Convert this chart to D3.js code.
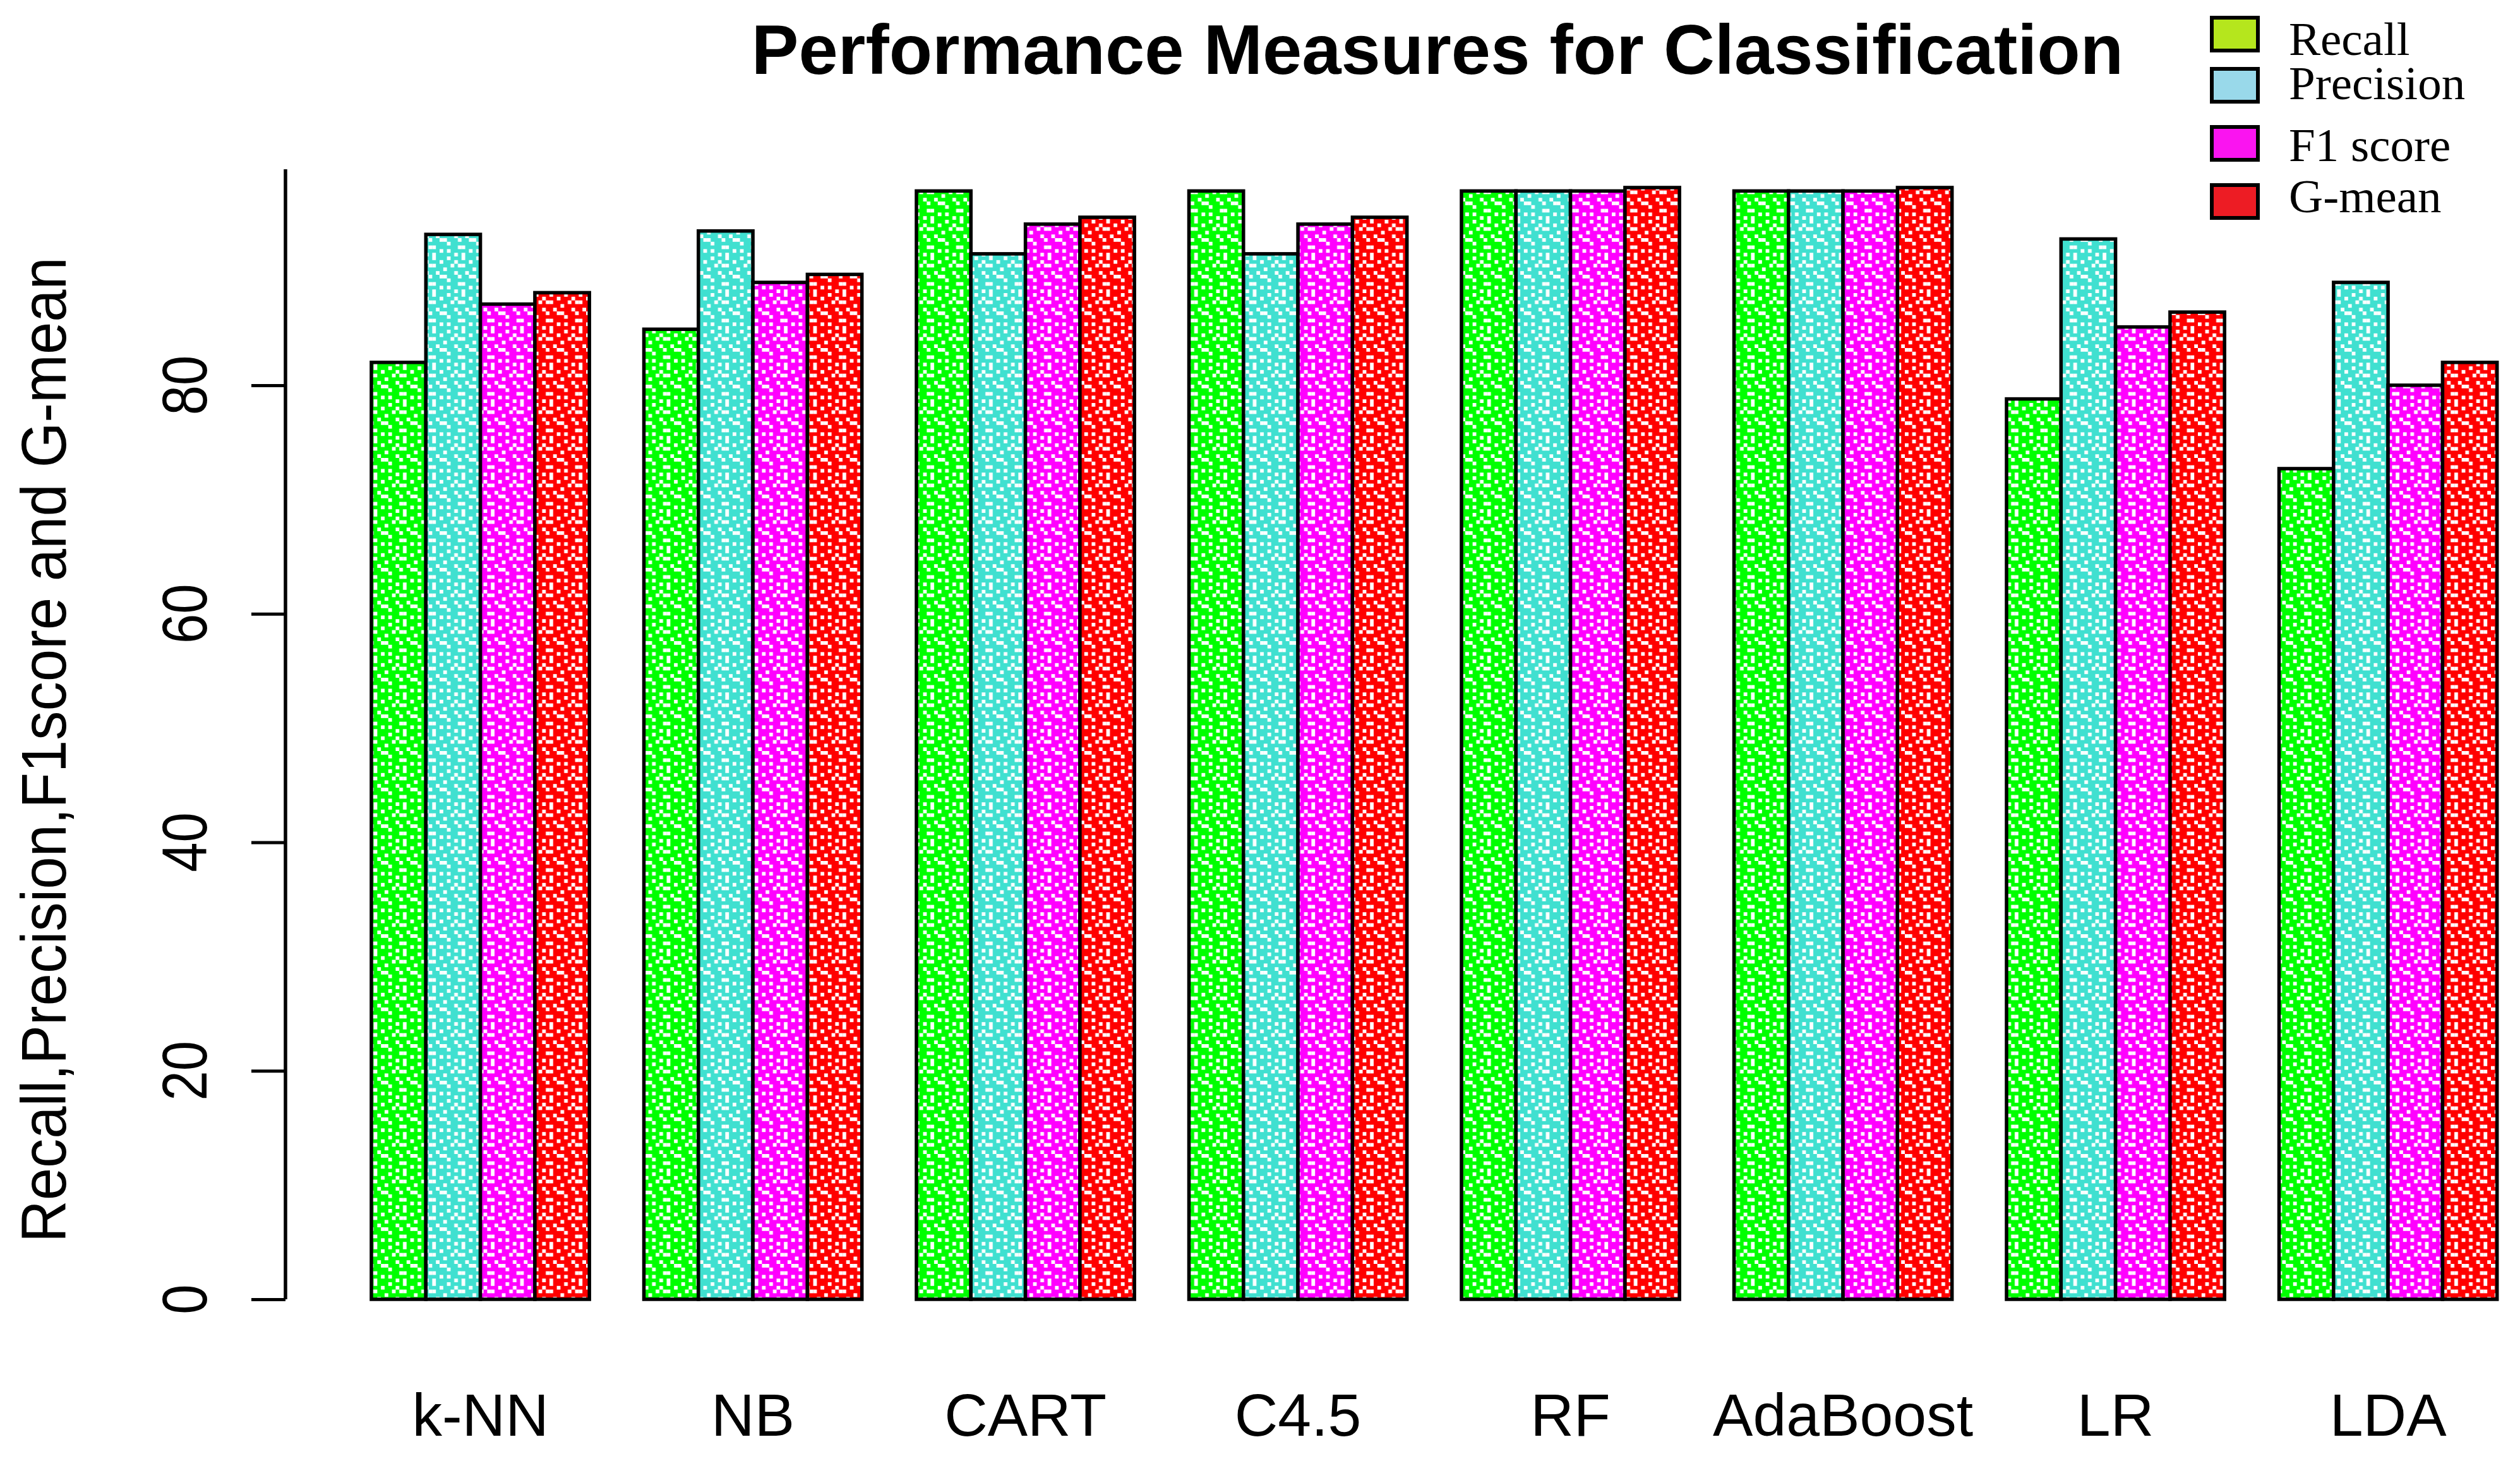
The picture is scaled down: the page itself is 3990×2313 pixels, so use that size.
<!DOCTYPE html>
<html>
<head>
<meta charset="utf-8">
<script src="https://cdn.jsdelivr.net/npm/d3@7"></script>
<style>
  html, body { margin: 0; padding: 0; background: #fff; }
  svg { display: block; }
</style>
</head>
<body>
<script>
// ---------------- DATA ----------------
const categories = ["k-NN", "NB", "CART", "C4.5", "RF", "AdaBoost", "LR", "LDA"];
const seriesNames = ["Recall", "Precision", "F1 score", "G-mean"];
const recall    = [82.0, 84.9, 97.0, 97.0, 97.0, 97.0, 78.8, 72.7];
const precision = [93.2, 93.5, 91.5, 91.5, 97.0, 97.0, 92.8, 89.0];
const f1score   = [87.1, 89.0, 94.1, 94.1, 97.0, 97.0, 85.1, 80.0];
const gmean     = [88.1, 89.7, 94.7, 94.7, 97.3, 97.3, 86.4, 82.0];
const yTicks = [0, 20, 40, 60, 80];
const titleText = "Performance Measures for Classification";
const yLabelText = "Recall,Precision,F1score and G-mean";

// ---------------- STYLE / LAYOUT ----------------
const W = 3990, H = 2313;
const barColors = ["#00FF00", "#40E0D0", "#FF00FF", "#FF0000"];
const legendColors = ["#B5E61D", "#99D9EA", "#FA14F0", "#ED1C24"];
const legendBoxTop = [25, 106, 198, 290];
const legendBaseline = [87, 157, 255, 336];

const seriesValues = [recall, precision, f1score, gmean];
const nS = seriesNames.length;

const svg = d3.select("body").append("svg")
  .attr("width", W).attr("height", H)
  .attr("xmlns", "http://www.w3.org/2000/svg");
svg.append("rect").attr("width", W).attr("height", H).attr("fill", "#fff");

// texture patterns (white speckle dither)
const cell = 5.8;
const bitmap = [
  "..#...#.",
  "#...#...",
  "...#.##.",
  ".#......",
  "....#..#",
  "##...#..",
  "..#.....",
  ".....##.",
  "#.#.....",
  "....#.#."
];
const defs = svg.append("defs");
barColors.forEach((c, i) => {
  const p = defs.append("pattern")
    .attr("id", "pat" + i)
    .attr("patternUnits", "userSpaceOnUse")
    .attr("width", 8 * cell).attr("height", bitmap.length * cell);
  p.append("rect").attr("width", 8 * cell).attr("height", bitmap.length * cell).attr("fill", c);
  bitmap.forEach((row, r) => {
    for (let k = 0; k < row.length; k++) {
      if (row[k] === "#") {
        p.append("rect").attr("x", k * cell).attr("y", r * cell)
          .attr("width", cell).attr("height", cell).attr("fill", "#fff");
      }
    }
  });
});

// scales (R barplot user units: bar width 1, group gap 1)
const x = d3.scaleLinear().domain([0, 40]).range([501.7, 501.7 + 40 * 86.3]);
const y = d3.scaleLinear().domain([0, 98.9]).range([2057, 268]);
const unit = x(1) - x(0);

// bars
const barData = [];
categories.forEach((cat, g) => {
  seriesValues.forEach((vals, s) => {
    barData.push({ g, s, v: vals[g] });
  });
});
svg.append("g").selectAll("rect").data(barData).join("rect")
  .attr("x", d => x(1 + (nS + 1) * d.g + d.s))
  .attr("y", d => y(d.v))
  .attr("width", unit)
  .attr("height", d => y(0) - y(d.v))
  .attr("fill", d => "url(#pat" + d.s + ")")
  .attr("stroke", "#000")
  .attr("stroke-width", 5.5);

// y axis
const axisX = 452;
const yAxis = d3.axisLeft(y).tickValues(yTicks).tickSize(54).tickFormat("");
const ag = svg.append("g").attr("transform", `translate(${axisX},0)`).call(yAxis);
ag.select(".domain").attr("stroke", "#000").attr("stroke-width", 5.5)
  .attr("d", `M0,${y(98.9)}V${y(0)}`);
ag.selectAll(".tick line").attr("stroke", "#000").attr("stroke-width", 5);

// y tick labels (rotated)
svg.append("g").selectAll("text").data(yTicks).join("text")
  .attr("transform", d => `translate(327,${y(d)}) rotate(-90) scale(0.85,1)`)
  .attr("text-anchor", "middle")
  .attr("font-family", "'Liberation Sans', Arial, sans-serif")
  .attr("font-size", 100)
  .attr("fill", "#000")
  .text(d => d);

// y axis label
const yl = svg.append("text")
  .attr("text-anchor", "middle")
  .attr("font-family", "'Liberation Sans', Arial, sans-serif")
  .attr("font-size", 100)
  .attr("fill", "#000")
  .text(yLabelText);
const ylLen = yl.node().getComputedTextLength();
const ylScale = 1560 / ylLen;
yl.attr("transform", `translate(104,1187) rotate(-90) scale(${ylScale},1)`);

// x category labels
svg.append("g").selectAll("text").data(categories).join("text")
  .attr("x", (d, g) => x(1 + (nS + 1) * g + nS / 2))
  .attr("y", 2273)
  .attr("text-anchor", "middle")
  .attr("font-family", "'Liberation Sans', Arial, sans-serif")
  .attr("font-size", 95)
  .attr("fill", "#000")
  .text(d => d);

// title
svg.append("text")
  .attr("x", 2276).attr("y", 117)
  .attr("text-anchor", "middle")
  .attr("font-family", "'Liberation Sans', Arial, sans-serif")
  .attr("font-weight", "bold")
  .attr("font-size", 112)
  .attr("fill", "#000")
  .text(titleText);

// legend
const lg = svg.append("g");
seriesNames.forEach((name, i) => {
  lg.append("rect")
    .attr("x", 3502).attr("y", legendBoxTop[i] + 3)
    .attr("width", 73).attr("height", 52)
    .attr("fill", legendColors[i])
    .attr("stroke", "#000").attr("stroke-width", 6);
  lg.append("text")
    .attr("x", 3624).attr("y", legendBaseline[i])
    .attr("font-family", "'Liberation Serif', 'Times New Roman', serif")
    .attr("font-size", 75)
    .attr("fill", "#000")
    .text(name);
});
</script>
</body>
</html>
